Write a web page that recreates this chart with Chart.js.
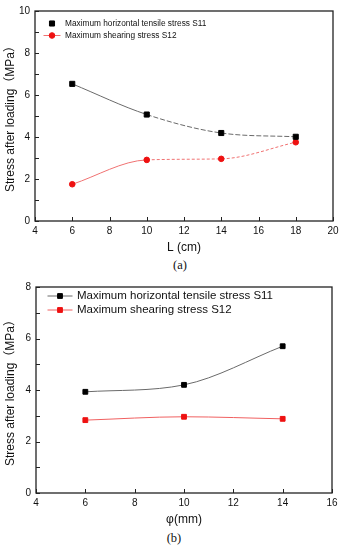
<!DOCTYPE html>
<html>
<head>
<meta charset="utf-8">
<script src="https://cdn.jsdelivr.net/npm/chart.js@4.4.1/dist/chart.umd.min.js"></script>
<style>
body { margin:0; background:#fff; width:344px; height:550px; overflow:hidden; }
.box { position:absolute; left:0; width:344px; }
.cap { position:absolute; width:344px; text-align:center; font:12.5px "Liberation Serif", serif; color:#111; }
</style>
</head>
<body>
<div class="box" style="top:0;height:256px"><canvas id="chartA"></canvas></div>
<div class="cap" style="top:258px;left:8px">(a)</div>
<div class="box" style="top:276px;height:252px"><canvas id="chartB"></canvas></div>
<div class="cap" style="top:531px;left:2px">(b)</div>
<script>
"use strict"

// chart (a): stress vs L
const lengths_a = [6, 10, 14, 18]
const s11_a = [6.53, 5.07, 4.19, 4.01]
const s12_a = [1.75, 2.91, 2.96, 3.75]
const x_range_a = [4, 20]
const y_range_a = [0, 10]

// chart (b): stress vs diameter
const diam_b = [6, 10, 14]
const s11_b = [3.93, 4.20, 5.70]
const s12_b = [2.83, 2.96, 2.88]
const x_range_b = [4, 16]
const y_range_b = [0, 8]

const series_names = ['Maximum horizontal tensile stress S11', 'Maximum shearing stress S12']
const y_title = 'Stress after loading（MPa）'

const FONT = '"Liberation Sans", "Noto Sans CJK SC", sans-serif'

function to_points(xs, ys){
    return xs.map((x, i) => ({x: x, y: ys[i]}))
}

// box around the plot + inward tick marks
const frame_plugin = {
    id: 'frame',
    afterDraw(chart){
        const ctx = chart.ctx
        const a = chart.chartArea
        ctx.save()
        ctx.strokeStyle = '#222'
        ctx.lineWidth = 1.3
        ctx.strokeRect(a.left, a.top, a.right - a.left, a.bottom - a.top)
        ctx.lineWidth = 1
        ctx.beginPath()
        for (const t of chart.scales.x.ticks){
            const px = Math.round(chart.scales.x.getPixelForValue(t.value)) + 0.5
            ctx.moveTo(px, a.bottom)
            ctx.lineTo(px, a.bottom - 4)
        }
        for (const t of chart.scales.y.ticks){
            const py = Math.round(chart.scales.y.getPixelForValue(t.value)) + 0.5
            ctx.moveTo(a.left, py)
            ctx.lineTo(a.left + 4, py)
        }
        ctx.stroke()
        ctx.restore()
    }
}

// legend drawn inside the plot area, top left
const inner_legend_plugin = {
    id: 'innerLegend',
    afterDraw(chart, args, opts){
        const ctx = chart.ctx
        const a = chart.chartArea
        ctx.save()
        ctx.font = opts.fontSize + 'px ' + FONT
        ctx.textBaseline = 'middle'
        chart.data.datasets.forEach((ds, i) => {
            const cx = a.left + opts.dx
            const cy = a.top + opts.dy + i * opts.rowGap
            if (ds.legendLine){
                ctx.strokeStyle = ds.borderColor
                ctx.lineWidth = 1
                ctx.beginPath()
                ctx.moveTo(cx - opts.lineHalf, cy)
                ctx.lineTo(cx + opts.lineHalf, cy)
                ctx.stroke()
            }
            ctx.fillStyle = ds.pointBackgroundColor
            ctx.strokeStyle = ds.pointBorderColor
            Chart.helpers.drawPoint(ctx, {pointStyle: ds.pointStyle, radius: ds.pointRadius, rotation: 0, borderWidth: 1}, cx, cy)
            ctx.fillStyle = '#111'
            ctx.fillText(ds.label, cx + opts.textDx, cy)
        })
        ctx.restore()
    }
}

function make_options(x_range, y_range, x_label, y_width, legend){
    return {
        responsive: true,
        maintainAspectRatio: false,
        animation: false,
        layout: {padding: {left: 0, right: 344 - 333 + (y_width - 35), top: 7, bottom: 0}},
        plugins: {
            legend: {display: false},
            tooltip: {enabled: false},
            innerLegend: legend
        },
        scales: {
            x: {
                type: 'linear',
                min: x_range[0],
                max: x_range[1],
                ticks: {stepSize: 2, padding: 4, color: '#111', font: {family: FONT, size: 10}},
                grid: {display: false, drawTicks: false},
                border: {display: false},
                title: {display: true, text: x_label, color: '#111', font: {family: FONT, size: 12}, padding: {top: 0, bottom: 1}},
                afterFit(scale){ scale.height = 35 }
            },
            y: {
                type: 'linear',
                min: y_range[0],
                max: y_range[1],
                ticks: {
                    stepSize: 1,
                    padding: 5,
                    color: '#111',
                    font: {family: FONT, size: 10},
                    callback: v => (v % 2 === 0 ? v : '')
                },
                grid: {display: false, drawTicks: false},
                border: {display: false},
                title: {display: true, text: y_title, color: '#111', font: {family: FONT, size: 12}, padding: {top: 3, bottom: 0}},
                afterFit(scale){ scale.width = y_width }
            }
        }
    }
}

let chart_a = new Chart(document.getElementById('chartA'), {
    type: 'scatter',
    data: {
        datasets: [
        {
            label: series_names[0],
            data: to_points(lengths_a, s11_a),
            showLine: true,
            cubicInterpolationMode: 'monotone',
            borderColor: '#6a6a6a',
            borderWidth: 1,
            segment: {borderDash: c => (c.p0DataIndex >= 1 ? [5, 2] : undefined)},
            pointStyle: 'rect',
            pointRadius: 3.6,
            pointBackgroundColor: '#000',
            pointBorderColor: '#000',
            legendLine: false,
        },
        {
            label: series_names[1],
            data: to_points(lengths_a, s12_a),
            showLine: true,
            cubicInterpolationMode: 'monotone',
            borderColor: '#f07272',
            borderWidth: 1,
            segment: {borderDash: c => (c.p0DataIndex >= 1 ? [3, 2] : undefined)},
            pointStyle: 'circle',
            pointRadius: 2.8,
            pointBackgroundColor: '#ee1111',
            pointBorderColor: '#ee1111',
            legendLine: true,
        }]
    },
    options: make_options(x_range_a, y_range_a, 'L (cm)', 35,
        {dx: 17, dy: 12.5, rowGap: 12, fontSize: 8.3, lineHalf: 8.5, textDx: 13}),
    plugins: [frame_plugin, inner_legend_plugin]
})

let chart_b = new Chart(document.getElementById('chartB'), {
    type: 'scatter',
    data: {
        datasets: [
        {
            label: series_names[0],
            data: to_points(diam_b, s11_b),
            showLine: true,
            cubicInterpolationMode: 'monotone',
            borderColor: '#6a6a6a',
            borderWidth: 1,
            pointStyle: 'rect',
            pointRadius: 3.4,
            pointBackgroundColor: '#000',
            pointBorderColor: '#000',
            legendLine: true,
        },
        {
            label: series_names[1],
            data: to_points(diam_b, s12_b),
            showLine: true,
            cubicInterpolationMode: 'monotone',
            borderColor: '#f06060',
            borderWidth: 1,
            pointStyle: 'rect',
            pointRadius: 3.4,
            pointBackgroundColor: '#ee1111',
            pointBorderColor: '#ee1111',
            legendLine: true,
        }]
    },
    options: make_options(x_range_b, y_range_b, 'φ(mm)', 36,
        {dx: 24, dy: 9, rowGap: 14, fontSize: 11.5, lineHalf: 12.5, textDx: 17}),
    plugins: [frame_plugin, inner_legend_plugin]
})
</script>
</body>
</html>
